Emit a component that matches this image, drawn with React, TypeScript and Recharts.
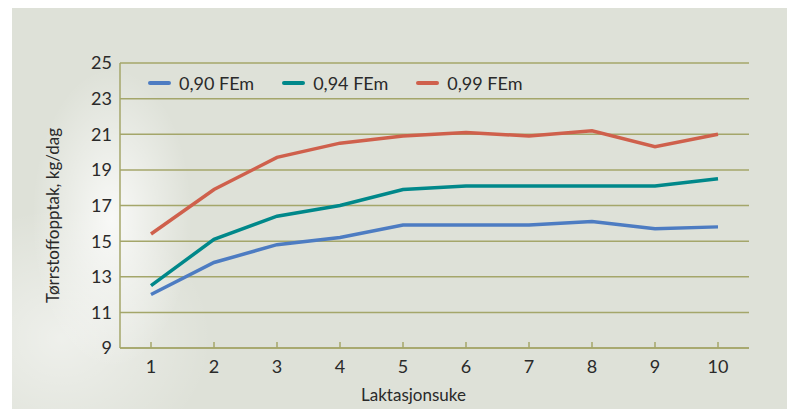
import React from 'react';
import { LineChart, Line, XAxis, YAxis, CartesianGrid, Legend } from 'recharts';

const weeks = [1, 2, 3, 4, 5, 6, 7, 8, 9, 10];
const fem090 = [12.0, 13.8, 14.8, 15.2, 15.9, 15.9, 15.9, 16.1, 15.7, 15.8];
const fem094 = [12.5, 15.1, 16.4, 17.0, 17.9, 18.1, 18.1, 18.1, 18.1, 18.5];
const fem099 = [15.4, 17.9, 19.7, 20.5, 20.9, 21.1, 20.9, 21.2, 20.3, 21.0];
const yTicks = [9, 11, 13, 15, 17, 19, 21, 23, 25];

const SERIES = [
  { key: 'a', name: '0,90 FEm', color: '#4d7cc2' },
  { key: 'b', name: '0,94 FEm', color: '#00888a' },
  { key: 'c', name: '0,99 FEm', color: '#cf604c' },
];

const data = weeks.map((w, i) => ({ week: w, a: fem090[i], b: fem094[i], c: fem099[i] }));

const FONT = 'Lato, "Open Sans", sans-serif';
const GRID = '#a4a66a';
const TEXT = '#2a2a2a';

const XTick = (props: any) => {
  const { x, y, payload } = props;
  return (
    <g>
      <line x1={x} x2={x} y1={y - 6} y2={y} stroke={GRID} strokeWidth={1.5} />
      <text x={x} y={y + 25} textAnchor="middle" fill={TEXT} fontSize={18} fontFamily={FONT}>
        {payload.value}
      </text>
    </g>
  );
};

const YTitle = (props: any) => {
  const { viewBox } = props;
  const cx = viewBox.x - 8;
  const cy = viewBox.y + viewBox.height / 2 + 10;
  return (
    <text
      x={cx}
      y={cy}
      transform={`rotate(-90 ${cx} ${cy})`}
      textAnchor="middle"
      dominantBaseline="central"
      fill={TEXT}
      fontSize={17}
      fontFamily={FONT}
    >
      Tørrstoffopptak, kg/dag
    </text>
  );
};

const LegendBox = () => (
  <div style={{ display: 'flex', alignItems: 'center', fontFamily: FONT, fontSize: 18, color: TEXT }}>
    {SERIES.map(s => (
      <div key={s.key} style={{ display: 'flex', alignItems: 'center', marginRight: 28 }}>
        <span style={{ width: 23, height: 4, borderRadius: 2, background: s.color, marginRight: 8 }} />
        {s.name}
      </div>
    ))}
  </div>
);

export default function App() {
  return (
    <div style={{ position: 'absolute', left: 0, top: 0, width: 787, height: 409, background: '#fff' }}>
      <div
        style={{
          position: 'absolute',
          left: 12,
          top: 8,
          width: 775,
          height: 401,
          background:
            'radial-gradient(ellipse 80px 150px at 100px 210px, rgba(255,255,255,0.8), rgba(255,255,255,0) 100%),' +
            'radial-gradient(ellipse 150px 130px at 50px 330px, rgba(255,255,255,0.5), rgba(255,255,255,0) 100%),' +
            '#dee1d8',
        }}
      >
        <LineChart width={775} height={401} data={data} margin={{ top: 55, right: 38, bottom: 17, left: 48 }}>
          <CartesianGrid horizontal vertical={false} stroke={GRID} strokeWidth={1.5} />
          <XAxis
            dataKey="week"
            padding={{ left: 31, right: 31 }}
            height={44}
            tickSize={0}
            tickMargin={0}
            tickLine={false}
            axisLine={{ stroke: GRID, strokeWidth: 1.5 }}
            tick={<XTick />}
            label={{ value: 'Laktasjonsuke', position: 'bottom', offset: -3, dx: -21, fill: TEXT, fontSize: 17, fontFamily: FONT }}
          />
          <YAxis
            domain={[9, 25]}
            ticks={yTicks}
            width={60}
            tickLine={false}
            interval={0}
            axisLine={{ stroke: GRID, strokeWidth: 1.5 }}
            tick={{ fill: TEXT, fontSize: 18, fontFamily: FONT }}
            label={<YTitle />}
          />
          <YAxis
            yAxisId="r"
            orientation="right"
            domain={[9, 25]}
            width={0}
            tick={false}
            tickLine={false}
            axisLine={{ stroke: GRID, strokeWidth: 1.5 }}
          />
          <Legend
            verticalAlign="middle"
            layout="horizontal"
            content={<LegendBox />}
            wrapperStyle={{ top: 64, left: 136, width: 'auto' }}
          />
          {SERIES.map(s => (
            <Line
              key={s.key}
              dataKey={s.key}
              name={s.name}
              stroke={s.color}
              strokeWidth={3.5}
              dot={false}
              activeDot={false}
              isAnimationActive={false}
            />
          ))}
        </LineChart>
      </div>
    </div>
  );
}
